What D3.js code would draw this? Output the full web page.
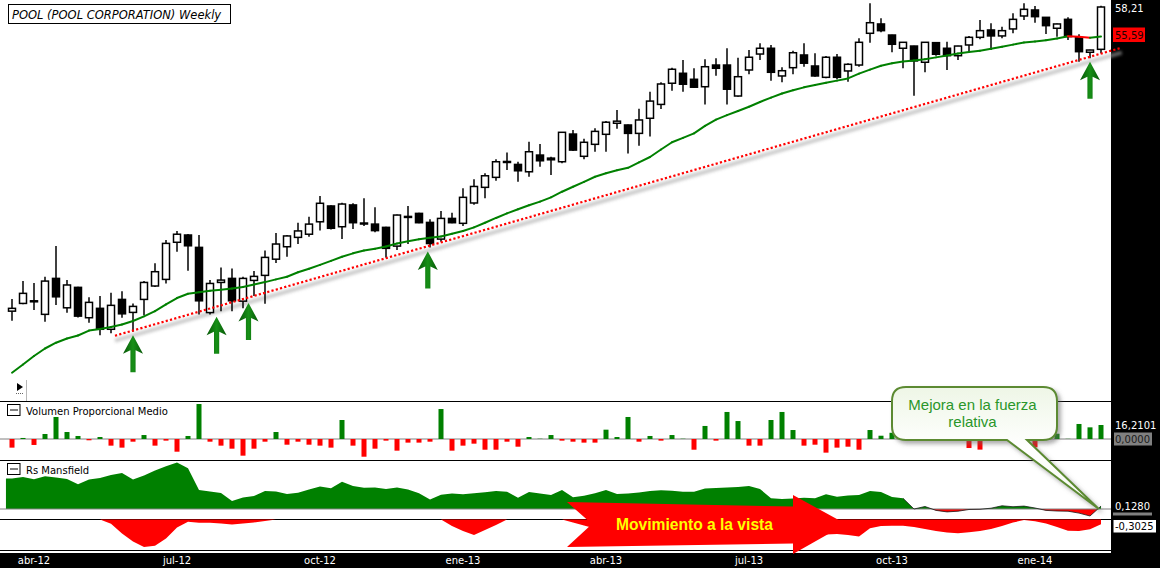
<!DOCTYPE html>
<html><head><meta charset="utf-8">
<script src="https://cdn.jsdelivr.net/npm/d3@7"></script>
<style>
html,body{margin:0;padding:0;background:#fff;}
svg{display:block;}
</style></head><body>
<svg id="c" width="1160" height="568"></svg>
<script>
// ---------- DATA ----------
const opens=[36.21,36.65,36.80,36.03,38.11,36.40,37.58,35.84,36.37,35.20,
36.88,36.14,36.88,37.66,38.05,40.32,40.78,40.00,36.13,37.87,
38.11,36.78,37.99,38.29,39.27,40.04,40.63,40.83,41.63,42.67,
41.31,42.74,41.55,41.48,41.27,40.08,41.94,42.18,41.59,40.52,
41.85,41.53,42.87,43.93,44.62,45.70,45.53,45.01,46.20,45.98,
45.72,47.74,46.11,46.98,47.72,48.55,48.42,47.79,48.93,50.00,
51.68,52.49,52.00,51.40,53.17,53.17,50.66,52.76,54.09,54.58,
52.27,52.95,54.01,53.09,52.16,53.82,52.68,53.17,55.87,56.69,
55.72,54.58,54.77,53.40,55.06,54.58,53.95,54.86,55.52,56.16,
55.64,56.25,57.40,57.94,57.28,56.31,57.10,55.49,54.24,54.49];
const highs=[36.90,37.95,37.83,38.21,40.08,38.01,37.61,37.00,37.07,37.26,
37.36,36.65,37.95,39.02,40.46,41.04,40.85,40.78,38.01,38.77,
38.71,38.21,38.55,39.80,40.91,40.78,41.57,41.96,43.34,42.72,
42.89,42.85,43.19,42.58,41.31,42.10,42.67,42.22,41.79,42.33,
42.22,43.87,44.48,44.90,45.89,46.39,45.72,47.17,47.00,46.08,
47.90,48.04,47.40,48.17,48.72,49.56,48.45,49.66,51.00,51.76,
52.95,53.59,52.90,53.65,53.73,54.58,53.78,54.43,55.01,54.86,
52.98,54.37,55.01,54.15,53.92,54.09,53.32,55.44,58.55,57.19,
55.75,55.12,54.80,55.12,55.09,55.14,54.80,55.64,57.04,56.75,
56.45,57.64,58.55,58.30,57.31,56.72,57.28,55.78,54.46,58.33];
const lows=[35.67,36.60,36.27,35.62,36.56,36.12,35.86,35.56,34.88,34.98,
35.84,35.07,35.99,37.60,37.81,39.73,38.57,36.02,36.02,36.21,
36.21,36.37,37.07,36.63,39.04,39.42,40.21,40.67,41.06,41.14,
40.52,41.16,41.36,40.96,39.38,39.83,40.21,41.53,40.00,40.35,
41.53,41.36,42.76,43.19,44.38,45.13,44.31,44.66,45.36,44.78,
45.61,46.50,45.89,46.44,46.44,48.14,46.32,46.88,47.55,49.64,
51.08,51.00,51.30,50.00,52.29,50.00,50.60,52.41,53.59,51.88,
51.76,52.41,53.03,52.21,52.08,52.00,51.80,53.03,55.06,55.96,
54.24,52.90,50.68,52.57,53.95,52.76,53.59,54.29,55.35,54.43,
55.44,55.87,57.04,56.80,55.81,55.58,55.29,53.45,53.73,54.15];
const closes=[36.37,37.23,36.76,37.95,37.03,37.72,35.93,36.71,35.20,36.54,
36.06,36.48,37.87,38.51,40.25,40.83,40.10,36.80,37.81,38.01,
36.80,38.11,38.23,39.38,40.21,40.72,41.04,41.48,42.85,41.21,
42.80,41.57,41.51,41.06,39.94,42.07,41.98,41.57,40.24,41.85,
41.57,43.25,43.99,44.73,45.72,45.74,45.08,46.44,45.79,45.86,
47.87,46.56,47.13,47.94,48.63,48.71,47.79,48.80,50.26,51.62,
52.82,51.60,51.36,53.03,52.90,51.20,52.21,53.82,54.58,52.57,
52.70,54.20,53.32,52.27,53.82,52.16,53.23,55.09,56.80,56.10,
54.92,55.09,53.51,55.09,54.07,53.95,54.77,55.52,56.10,55.64,
56.10,57.10,58.00,57.34,56.54,56.69,55.58,54.29,54.43,58.21];
const movingAvg=[32.89,33.32,33.76,34.16,34.47,34.70,34.86,35.13,35.22,35.33,
35.46,35.66,35.92,36.21,36.59,36.96,37.21,37.30,37.38,37.44,
37.51,37.60,37.75,37.89,38.05,38.21,38.48,38.69,38.92,39.17,
39.42,39.63,39.81,39.91,40.05,40.24,40.39,40.51,40.60,40.68,
40.86,41.04,41.27,41.57,41.88,42.18,42.45,42.72,42.96,43.25,
43.63,43.97,44.31,44.66,44.91,45.12,45.29,45.68,46.06,46.60,
47.13,47.46,47.79,48.35,48.83,49.17,49.49,49.82,50.19,50.53,
50.86,51.12,51.35,51.53,51.72,51.89,52.07,52.46,52.79,53.11,
53.31,53.47,53.55,53.66,53.81,53.97,54.13,54.26,54.37,54.53,
54.70,54.89,55.08,55.16,55.27,55.41,55.62,55.56,55.49,55.59];
const volumeRel=[-10.0,1.2,-6.9,5.8,25.5,8.1,3.5,-1.5,2.3,-7.7,
-10.0,-3.1,4.6,-7.7,-1.9,-14.7,3.5,40.5,-3.1,-7.7,
-11.2,-19.3,-11.2,-3.1,8.1,-6.6,-3.1,-6.6,-7.7,-10.0,
22.0,-7.7,-20.5,-11.2,-1.9,-13.5,-4.2,-4.2,-3.1,34.7,
-13.5,-7.7,-5.4,-12.4,-12.4,-3.1,-8.9,2.3,0.3,4.6,
-1.9,-3.1,-4.2,-4.2,10.8,2.3,25.5,-3.1,3.5,-1.9,
4.6,0.3,-12.4,15.1,-1.9,31.3,20.8,-7.7,-7.7,22.0,
31.3,10.4,-7.7,-6.6,-15.8,-10.0,-8.9,-12.4,10.4,3.8,
7.2,6.0,4.0,9.0,5.0,3.0,7.0,-10.4,-12.3,5.0,
8.0,4.0,-3.9,-9.6,0.2,6.1,0.2,17.4,13.5,16.2101];
const rsUpper=[1.356,1.418,1.324,1.453,1.396,1.333,1.098,1.311,1.378,1.507,
1.600,1.307,1.484,1.711,1.902,2.067,1.813,0.844,0.778,0.711,
0.356,0.511,0.578,0.800,0.773,0.667,0.720,0.862,1.000,0.924,
1.213,1.022,0.947,0.956,0.884,0.956,0.871,0.702,0.422,0.631,
0.684,0.658,0.698,0.742,0.800,0.769,0.502,0.756,0.689,0.622,
0.844,0.520,0.587,0.702,0.844,0.667,0.693,0.738,0.800,0.836,
0.809,0.764,0.764,0.911,0.938,0.956,0.978,1.018,0.889,0.480,
0.444,0.467,0.498,0.480,0.653,0.542,0.596,0.622,0.800,0.756,
0.533,0.476,0.000,0.111,-0.062,-0.129,-0.098,-0.022,-0.013,0.036,
0.142,0.102,0.129,0.044,-0.062,-0.089,-0.098,-0.182,-0.311,0.128];
const rsLower=[0,0,0,0,0,0,0,0,0,-0.26,
-0.87,-1.38,-1.72,-1.64,-1.19,-0.50,-0.14,-0.20,-0.20,-0.25,
-0.31,-0.25,-0.18,-0.09,0,0,0,0,0,0,
0,0,0,0,0,0,0,0,0,0,
-0.41,-0.72,-0.97,-0.66,-0.34,0,0,0,0,0,
0,-0.19,-0.38,-0.56,-0.69,-0.75,-0.75,-0.75,-0.69,-0.62,
-0.62,-0.62,-0.69,-0.75,-0.81,-0.81,-0.75,-0.69,-0.69,-0.75,
-0.81,-0.88,-0.94,-0.94,-0.94,-0.91,-0.97,-1.06,-0.55,-0.41,
-0.39,-0.39,-0.47,-0.59,-0.72,-0.81,-0.86,-0.80,-0.72,-0.59,
-0.41,-0.19,-0.03,-0.11,-0.25,-0.47,-0.70,-0.72,-0.61,-0.3025];
const tickLabels=["abr-12","jul-12","oct-12","ene-13","abr-13","jul-13","oct-13","ene-14"];
const tickIndex=[2,15,28,41,54,67,80,93];
const trendStart=[9.36,34.85], trendEnd=[100.88,54.63];
const arrowIdx=[11,18.6,21.5,37.8,98];
const arrowPrice=[34.88,35.89,36.68,39.75,53.45];

// ---------- SCALES ----------
const svg=d3.select('#c');
const plotR=1111;
const x=d3.scaleLinear().domain([0,99]).range([12,1101]);
const y=d3.scaleLog().domain([31.62,58.85]).range([398,0]);
const yv=d3.scaleLinear().domain([-24.31,44]).range([460,401]);
const yr=d3.scaleLinear().domain([-0.4444,2.1778]).range([519,460]);
const yl=d3.scaleLinear().domain([-1.906,0]).range([550,519.5]);
const UI='"DejaVu Sans", Verdana, sans-serif';

// ---------- DEFS ----------
const defs=svg.append('defs');
const ag=defs.append('linearGradient').attr('id','arrG').attr('x1',0).attr('x2',1).attr('y1',0).attr('y2',0);
ag.append('stop').attr('offset','0').attr('stop-color','#075707');
ag.append('stop').attr('offset','0.5').attr('stop-color','#179017');
ag.append('stop').attr('offset','1').attr('stop-color','#075707');
const cg=defs.append('linearGradient').attr('id','callG').attr('x1',0).attr('x2',0).attr('y1',0).attr('y2',1);
cg.append('stop').attr('offset','0').attr('stop-color','#eef6e6');
cg.append('stop').attr('offset','0.5').attr('stop-color','#ffffff');
cg.append('stop').attr('offset','1').attr('stop-color','#f3f8ee');
defs.append('filter').attr('id','blur').attr('x','-5%').attr('y','-20%').attr('width','110%').attr('height','140%')
  .append('feGaussianBlur').attr('stdDeviation',1.6);
defs.append('filter').attr('id','shadow').attr('x','-10%').attr('y','-10%').attr('width','130%').attr('height','130%')
  .append('feDropShadow').attr('dx',3).attr('dy',3).attr('stdDeviation',2).attr('flood-color','#666').attr('flood-opacity',0.55);
defs.append('clipPath').attr('id','clipUp').append('rect').attr('x',0).attr('y',455).attr('width',plotR).attr('height',yr(0)-455);
defs.append('clipPath').attr('id','clipDn').append('rect').attr('x',0).attr('y',yr(0)).attr('width',plotR).attr('height',20);

// ---------- FRAME ----------
svg.append('rect').attr('width',1160).attr('height',568).attr('fill','#fff');
svg.append('rect').attr('x',plotR).attr('y',0).attr('width',1160-plotR).attr('height',568).attr('fill','#000');
svg.append('rect').attr('x',0).attr('y',553).attr('width',1160).attr('height',15).attr('fill','#000');
[401.5,460.5,519.5,550.5].forEach(v=>svg.append('line').attr('x1',0).attr('x2',plotR).attr('y1',v).attr('y2',v).attr('stroke','#000').attr('stroke-width',1));

// title
svg.append('rect').attr('x',8.5).attr('y',4.5).attr('width',222).attr('height',19).attr('fill','#fff').attr('stroke','#000');
svg.append('text').attr('x',12).attr('y',18.5).attr('font-family',UI).attr('font-style','italic').attr('font-size',11.5)
  .attr('fill','#000').text('POOL (POOL CORPORATION) Weekly');

// ---------- MAIN PANEL ----------
const tx1=x(trendStart[0]), ty1=y(trendStart[1]), tx2=x(trendEnd[0]), ty2=y(trendEnd[1]);
svg.append('line').attr('x1',tx1).attr('y1',ty1+5).attr('x2',tx2).attr('y2',ty2+5)
  .attr('stroke','#aaa').attr('stroke-width',4).attr('opacity',0.6).attr('filter','url(#blur)');

const idx=d3.range(opens.length);
const cg2=svg.append('g');
idx.forEach(i=>{
  const cx=x(i), up=closes[i]>=opens[i];
  cg2.append('line').attr('x1',cx).attr('x2',cx).attr('y1',y(highs[i])).attr('y2',y(lows[i]))
    .attr('stroke','#000').attr('stroke-width',1.5);
  const top=y(Math.max(opens[i],closes[i])), bot=y(Math.min(opens[i],closes[i]));
  cg2.append('rect').attr('x',cx-3.5).attr('width',7).attr('y',top).attr('height',Math.max(1,bot-top))
    .attr('fill',up?'#fff':'#000').attr('stroke','#000').attr('stroke-width',1.5);
});

svg.append('line').attr('x1',tx1).attr('y1',ty1).attr('x2',tx2).attr('y2',ty2)
  .attr('stroke','#ff0000').attr('stroke-width',2.2).attr('stroke-dasharray','2.2,2.2');

const mg=svg.append('g');
for(let i=0;i<movingAvg.length-1;i++){
  mg.append('line').attr('x1',x(i)).attr('y1',y(movingAvg[i])).attr('x2',x(i+1)).attr('y2',y(movingAvg[i+1]))
    .attr('stroke',movingAvg[i+1]<movingAvg[i]?'#ff0000':'#008000').attr('stroke-width',2).attr('stroke-linecap','round');
}

// green arrows
const arrowShape='M0,0 L10,18.5 L2.6,15 L2.6,37 L-2.6,37 L-2.6,15 L-10,18.5 Z';
arrowIdx.forEach((a,k)=>{
  svg.append('path').attr('d',arrowShape).attr('transform',`translate(${x(a)},${y(arrowPrice[k])})`)
    .attr('fill','url(#arrG)');
});

// small play icon
svg.append('path').attr('d','M17,383 L23,387 L17,391 Z').attr('fill','#000');
svg.append('line').attr('x1',16).attr('x2',24).attr('y1',393.5).attr('y2',393.5).attr('stroke','#666').attr('stroke-dasharray','1,1');
svg.append('line').attr('x1',26.5).attr('x2',26.5).attr('y1',380).attr('y2',401).attr('stroke','#b8b8b8');

// ---------- VOLUME PANEL ----------
svg.append('line').attr('x1',0).attr('x2',plotR).attr('y1',yv(0)).attr('y2',yv(0)).attr('stroke','#808080');
idx.forEach(i=>{
  const v=volumeRel[i];
  svg.append('rect').attr('x',x(i)-2.5).attr('width',5)
    .attr('y',Math.min(yv(v),yv(0))).attr('height',Math.abs(yv(v)-yv(0)))
    .attr('fill',v>=0?'#008000':'#ff0000');
});
function panelTitle(yTop,label){
  svg.append('rect').attr('x',7.5).attr('y',yTop+0.5).attr('width',12.5).attr('height',11).attr('fill','#fff').attr('stroke','#000');
  svg.append('line').attr('x1',10).attr('x2',18).attr('y1',yTop+6).attr('y2',yTop+6).attr('stroke','#000');
  svg.append('text').attr('x',26).attr('y',yTop+10.5).attr('font-family',UI).attr('font-size',10).attr('fill','#000').text(label);
}
panelTitle(404,'Volumen Proporcional Medio');

// ---------- RS MANSFIELD ----------
const rsPts=[{i:-0.55,v:rsUpper[0]}].concat(rsUpper.map((v,i)=>({i,v})));
const rsArea=d3.area().x(d=>x(d.i)).y0(yr(0)).y1(d=>yr(d.v));
svg.append('path').attr('d',rsArea(rsPts)).attr('fill','#008000').attr('clip-path','url(#clipUp)');
svg.append('path').attr('d',rsArea(rsPts)).attr('fill','#ff0000').attr('clip-path','url(#clipDn)');
svg.append('line').attr('x1',0).attr('x2',plotR).attr('y1',yr(0)).attr('y2',yr(0)).attr('stroke','#808080');
svg.append('path').attr('d',d3.line().x(d=>x(d.i)).y(d=>yr(d.v))(rsPts.slice(82))).attr('fill','none').attr('stroke','#1a1a1a').attr('stroke-width',0.8);
panelTitle(463,'Rs Mansfield');

const lowArea=d3.area().x((d,i)=>x(i)).y0(yl(0)).y1(d=>yl(d));
svg.append('path').attr('d',lowArea(rsLower)).attr('fill','#ff0000');

// ---------- BIG RED ARROW ----------
svg.append('path').attr('d','M567,502 L793,506.5 L793,495 L846,524 L793,554 L793,543.5 L567,547 L592,524 Z').attr('fill','#ff0000');
svg.append('text').attr('x',694.5).attr('y',530).attr('text-anchor','middle')
  .attr('font-family','"Liberation Sans", Arial, sans-serif').attr('font-weight','bold').attr('font-size',15.6)
  .attr('fill','#ffff00').text('Movimiento a la vista');

// ---------- CALLOUT ----------
const tipX=x(98.8), tipY=yr(0);
const bx0=892,by0=387,bx1=1057,by1=440,r=14;
const cPath=`M${bx0+r},${by0} H${bx1-r} Q${bx1},${by0} ${bx1},${by0+r} V${by1-r} Q${bx1},${by1} ${bx1-r},${by1} H1027 L${tipX},${tipY} L1007,${by1} H${bx0+r} Q${bx0},${by1} ${bx0},${by1-r} V${by0+r} Q${bx0},${by0} ${bx0+r},${by0} Z`;
svg.append('path').attr('d',cPath).attr('fill','url(#callG)').attr('stroke','#5b8a30').attr('stroke-width',2).attr('filter','url(#shadow)');
const ct=svg.append('text').attr('text-anchor','middle').attr('font-family','"Liberation Sans", Arial, sans-serif')
  .attr('font-size',15).attr('fill','#2a962a');
ct.append('tspan').attr('x',972.5).attr('y',409.5).text('Mejora en la fuerza');
ct.append('tspan').attr('x',972.5).attr('y',427).text('relativa');

// ---------- RIGHT LABELS ----------
function lbl(txt,yy,fill){return svg.append('text').attr('x',1115).attr('y',yy).attr('font-family',UI).attr('font-size',10).attr('fill',fill).text(txt);}
const lastClose=closes[closes.length-1], lastMA=movingAvg[movingAvg.length-1];
lbl(d3.format('.2f')(lastClose).replace('.',','), y(lastClose)+4.5,'#fff');
svg.append('rect').attr('x',1113).attr('y',y(lastMA)-9).attr('width',32).attr('height',14.5).attr('fill','#ff0000');
lbl(d3.format('.2f')(lastMA).replace('.',','), y(lastMA)+2.5,'#200000');
const lastVol=volumeRel[volumeRel.length-1];
lbl(d3.format('.4f')(lastVol).replace('.',','), yv(lastVol)+3.5,'#fff');
svg.append('rect').attr('x',1114).attr('y',yv(0)-6.5).attr('width',38).attr('height',13).attr('fill','#808080');
lbl('0,0000', yv(0)+4,'#1a1a1a');
svg.append('rect').attr('x',1113).attr('y',yr(0)+3.5).attr('width',39).attr('height',3).attr('fill','#808080');
const lastRs=rsUpper[rsUpper.length-1];
lbl(d3.format('.4f')(lastRs).replace('.',','), yr(lastRs)+4,'#fff');
const lastLow=rsLower[rsLower.length-1];
svg.append('rect').attr('x',1113.5).attr('y',520).attr('width',42.5).attr('height',12.5).attr('fill','#fff');
lbl(d3.format('.4f')(lastLow).replace('.',',').replace('−','-'), 530,'#000');

// ---------- X AXIS LABELS ----------
tickLabels.forEach((t,k)=>{
  svg.append('text').attr('x',x(tickIndex[k])).attr('y',564).attr('text-anchor','middle')
    .attr('font-family',UI).attr('font-size',10).attr('fill','#fff').text(t);
});
</script>
</body></html>
